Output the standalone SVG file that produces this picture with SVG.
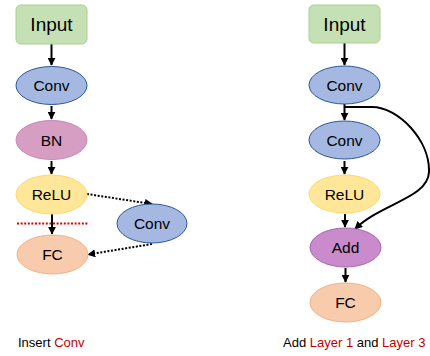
<svg xmlns="http://www.w3.org/2000/svg" width="430" height="356" viewBox="0 0 430 356">
<defs>
<marker id="ah" viewBox="0 0 10 10" refX="9" refY="5" markerWidth="4" markerHeight="4" orient="auto" markerUnits="strokeWidth">
<path d="M0,0 L10,5 L0,10 z" fill="#000"/>
</marker>
<style>
.lbl{font-family:"Liberation Sans",Arial,sans-serif;font-size:15.5px;fill:#000;text-anchor:middle;dominant-baseline:central}
.big{font-size:19px}
.cap{font-family:"Liberation Sans",Arial,sans-serif;font-size:13px;fill:#000}
.red{fill:#C00000}
.input{fill:#C5E0B4;stroke:#A9D18E;stroke-width:1}
.conv{fill:#A5B8E2;stroke:#2F5597;stroke-width:1}
.bn{fill:#D59EC2;stroke:#C987B6;stroke-width:1}
.relu{fill:#FFE699;stroke:#FFD966;stroke-width:1}
.fc{fill:#F8CBAD;stroke:#F4B183;stroke-width:1}
.add{fill:#C98BCB;stroke:#A866AE;stroke-width:1}
.e{stroke:#000;stroke-width:2;fill:none;marker-end:url(#ah)}
.dot{stroke-dasharray:2 1.6}
</style>
</defs>
<rect width="430" height="356" fill="#fff"/>
<g id="connectors">
<line class="e" x1="51.5" y1="44" x2="51.5" y2="65"/>
<line class="e" x1="51.5" y1="106" x2="51.5" y2="119"/>
<line class="e" x1="51.5" y1="161" x2="51.5" y2="174"/>
<line class="e" x1="52" y1="214" x2="52" y2="234"/>
<line class="e dot" x1="87" y1="194" x2="152" y2="204"/>
<line class="e dot" x1="152" y1="244" x2="88" y2="254.5"/>
<line x1="17" y1="223.5" x2="88" y2="223.5" stroke="#E00000" stroke-width="2" stroke-dasharray="2 1.6"/>
<line class="e" x1="344.5" y1="43" x2="344.5" y2="65"/>
<line class="e" x1="344.5" y1="104" x2="344.5" y2="120"/>
<line class="e" x1="344.5" y1="161" x2="344.5" y2="174"/>
<line class="e" x1="345" y1="214" x2="345" y2="227"/>
<line class="e" x1="345.5" y1="268" x2="345.5" y2="282"/>
<path class="e" d="M344.5,107 L372,107 C398,107 430,140 429,172 C428,198 382,203 355,229"/>
</g>
<g id="n1"><rect class="input" x="16" y="5" width="71" height="39" rx="5"/><text class="lbl big" x="51.5" y="24.5">Input</text></g>
<g id="n2"><ellipse class="conv" cx="51.5" cy="85.5" rx="35.5" ry="19"/><text class="lbl" x="51.5" y="85.5">Conv</text></g>
<g id="n3"><ellipse class="bn" cx="51.5" cy="140" rx="35.5" ry="19.5"/><text class="lbl" x="51.5" y="140">BN</text></g>
<g id="n4"><ellipse class="relu" cx="51.5" cy="194.5" rx="35.5" ry="19.5"/><text class="lbl" x="51.5" y="194.5">ReLU</text></g>
<g id="n5"><ellipse class="fc" cx="52.5" cy="254.5" rx="35.5" ry="19.5"/><text class="lbl" x="52.5" y="254.5">FC</text></g>
<g id="n6"><ellipse class="conv" cx="152" cy="223.5" rx="35" ry="19.5"/><text class="lbl" x="152" y="223.5">Conv</text></g>
<g id="n7"><rect class="input" x="309" y="5" width="71" height="38" rx="5"/><text class="lbl big" x="344.5" y="24">Input</text></g>
<g id="n8"><ellipse class="conv" cx="344.5" cy="85" rx="35.5" ry="19"/><text class="lbl" x="344.5" y="85">Conv</text></g>
<g id="n9"><ellipse class="conv" cx="344.5" cy="140" rx="35.5" ry="19"/><text class="lbl" x="344.5" y="140">Conv</text></g>
<g id="n10"><ellipse class="relu" cx="344.5" cy="194" rx="35.5" ry="19"/><text class="lbl" x="344.5" y="194">ReLU</text></g>
<g id="n11"><ellipse class="add" cx="345.5" cy="247.5" rx="35.5" ry="19.5"/><text class="lbl" x="345.5" y="247.5">Add</text></g>
<g id="n12"><ellipse class="fc" cx="345.5" cy="302.5" rx="35.5" ry="19.5"/><text class="lbl" x="345.5" y="302.5">FC</text></g>
<text class="cap" x="18" y="347">Insert <tspan class="red">Conv</tspan></text>
<text class="cap" x="283" y="347">Add <tspan class="red">Layer 1</tspan> and <tspan class="red">Layer 3</tspan></text>
</svg>
